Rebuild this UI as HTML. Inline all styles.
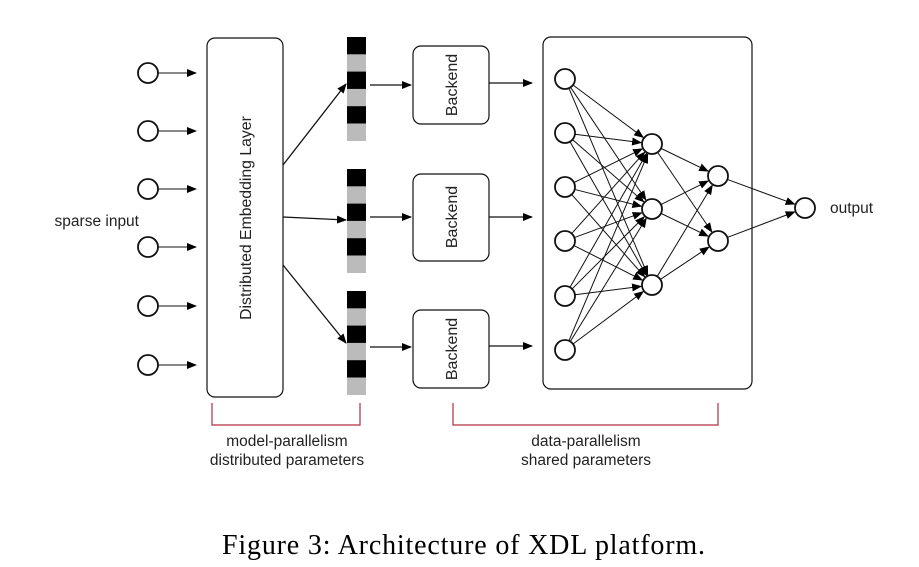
<!DOCTYPE html>
<html><head><meta charset="utf-8"><style>
html,body{margin:0;padding:0;background:#fff;}
svg{display:block;}
text{font-family:"Liberation Sans",sans-serif;fill:#222;}
</style></head><body>
<svg id="s" width="919" height="567" viewBox="0 0 919 567" xmlns="http://www.w3.org/2000/svg">
<defs><marker id="a" markerWidth="10" markerHeight="8" refX="9" refY="4" orient="auto" markerUnits="userSpaceOnUse"><path d="M0,0 L10,4 L0,8 z" fill="#000"/></marker></defs>
<g id="g" stroke="#111" stroke-width="1.3" fill="none">
<rect x="207" y="38" width="76" height="359" rx="8" stroke-width="1.2"/>
<rect x="413" y="46" width="76" height="78" rx="8" stroke-width="1.2"/>
<rect x="413" y="174" width="76" height="87" rx="8" stroke-width="1.2"/>
<rect x="413" y="310" width="76" height="78" rx="8" stroke-width="1.2"/>
<rect x="543" y="37" width="209" height="352" rx="8" stroke-width="1.2"/>
<line x1="283" y1="165" x2="346" y2="84" marker-end="url(#a)"/>
<line x1="283" y1="217" x2="346" y2="220" marker-end="url(#a)"/>
<line x1="283" y1="265" x2="346" y2="343" marker-end="url(#a)"/>
<line x1="370" y1="85" x2="411" y2="85" marker-end="url(#a)"/>
<line x1="370" y1="217" x2="411" y2="217" marker-end="url(#a)"/>
<line x1="370" y1="347" x2="411" y2="347" marker-end="url(#a)"/>
<line x1="489" y1="83" x2="532" y2="83" marker-end="url(#a)"/>
<line x1="489" y1="217" x2="532" y2="217" marker-end="url(#a)"/>
<line x1="489" y1="346" x2="532" y2="346" marker-end="url(#a)"/>
</g>
<g stroke="#b03040" stroke-width="1.2" fill="none">
<path d="M212,403 V425 H360 V403"/>
<path d="M453,403 V425 H718 V403"/>
</g>
<text x="139" y="226" font-size="15.5" text-anchor="end">sparse input</text>
<text x="830" y="213" font-size="15.5">output</text>
<text transform="translate(251,218) rotate(-90)" font-size="15.8" text-anchor="middle">Distributed Embedding Layer</text>
<text transform="translate(457,85) rotate(-90)" font-size="16" text-anchor="middle">Backend</text>
<text transform="translate(457,217) rotate(-90)" font-size="16" text-anchor="middle">Backend</text>
<text transform="translate(457,349) rotate(-90)" font-size="16" text-anchor="middle">Backend</text>
<text x="287" y="446" font-size="15.5" text-anchor="middle">model-parallelism</text>
<text x="287" y="465" font-size="15.5" text-anchor="middle">distributed parameters</text>
<text x="586" y="446" font-size="15.5" text-anchor="middle">data-parallelism</text>
<text x="586" y="465" font-size="15.5" text-anchor="middle">shared parameters</text>
<text x="222" y="554" font-size="28" textLength="483" lengthAdjust="spacing" style="font-family:'Liberation Serif',serif;fill:#000">Figure 3: Architecture of XDL platform.</text>
</svg>
<script>
var s=document.getElementById('s'),N='http://www.w3.org/2000/svg';
function el(t,a){var e=document.createElementNS(N,t);for(var k in a)e.setAttribute(k,a[k]);s.appendChild(e);return e;}
function line(x1,y1,x2,y2,r){var dx=x2-x1,dy=y2-y1,d=Math.sqrt(dx*dx+dy*dy);el('line',{x1:x1+dx/d*r,y1:y1+dy/d*r,x2:x2-dx/d*(r+1),y2:y2-dy/d*(r+1),stroke:'#111','stroke-width':1,'marker-end':'url(#a)'});}
var R=10;
[73,131,189,247,306,365].forEach(function(y){line(148,y,207,y,R);el('circle',{cx:148,cy:y,r:R,fill:'#fff',stroke:'#111','stroke-width':1.8});});
[37,169,291].forEach(function(y0){for(var i=0;i<6;i++)el('rect',{x:347,y:y0+i*17.3,width:19,height:17.5,fill:i%2?'#bbb':'#000'});});
var L1=[79,133,187,241,296,350].map(function(y){return[565,y]}),L2=[[652,144],[652,209],[652,285]],L3=[[718,176],[718,241]],O=[[805,208]];
L1.forEach(function(p){L2.forEach(function(q){line(p[0],p[1],q[0],q[1],R);});});
L2.forEach(function(p){L3.forEach(function(q){line(p[0],p[1],q[0],q[1],R);});});
L3.forEach(function(p){line(p[0],p[1],O[0][0],O[0][1],R);});
L1.concat(L2,L3,O).forEach(function(p){el('circle',{cx:p[0],cy:p[1],r:R,fill:'#fff',stroke:'#111','stroke-width':1.8});});
</script>
</body></html>
